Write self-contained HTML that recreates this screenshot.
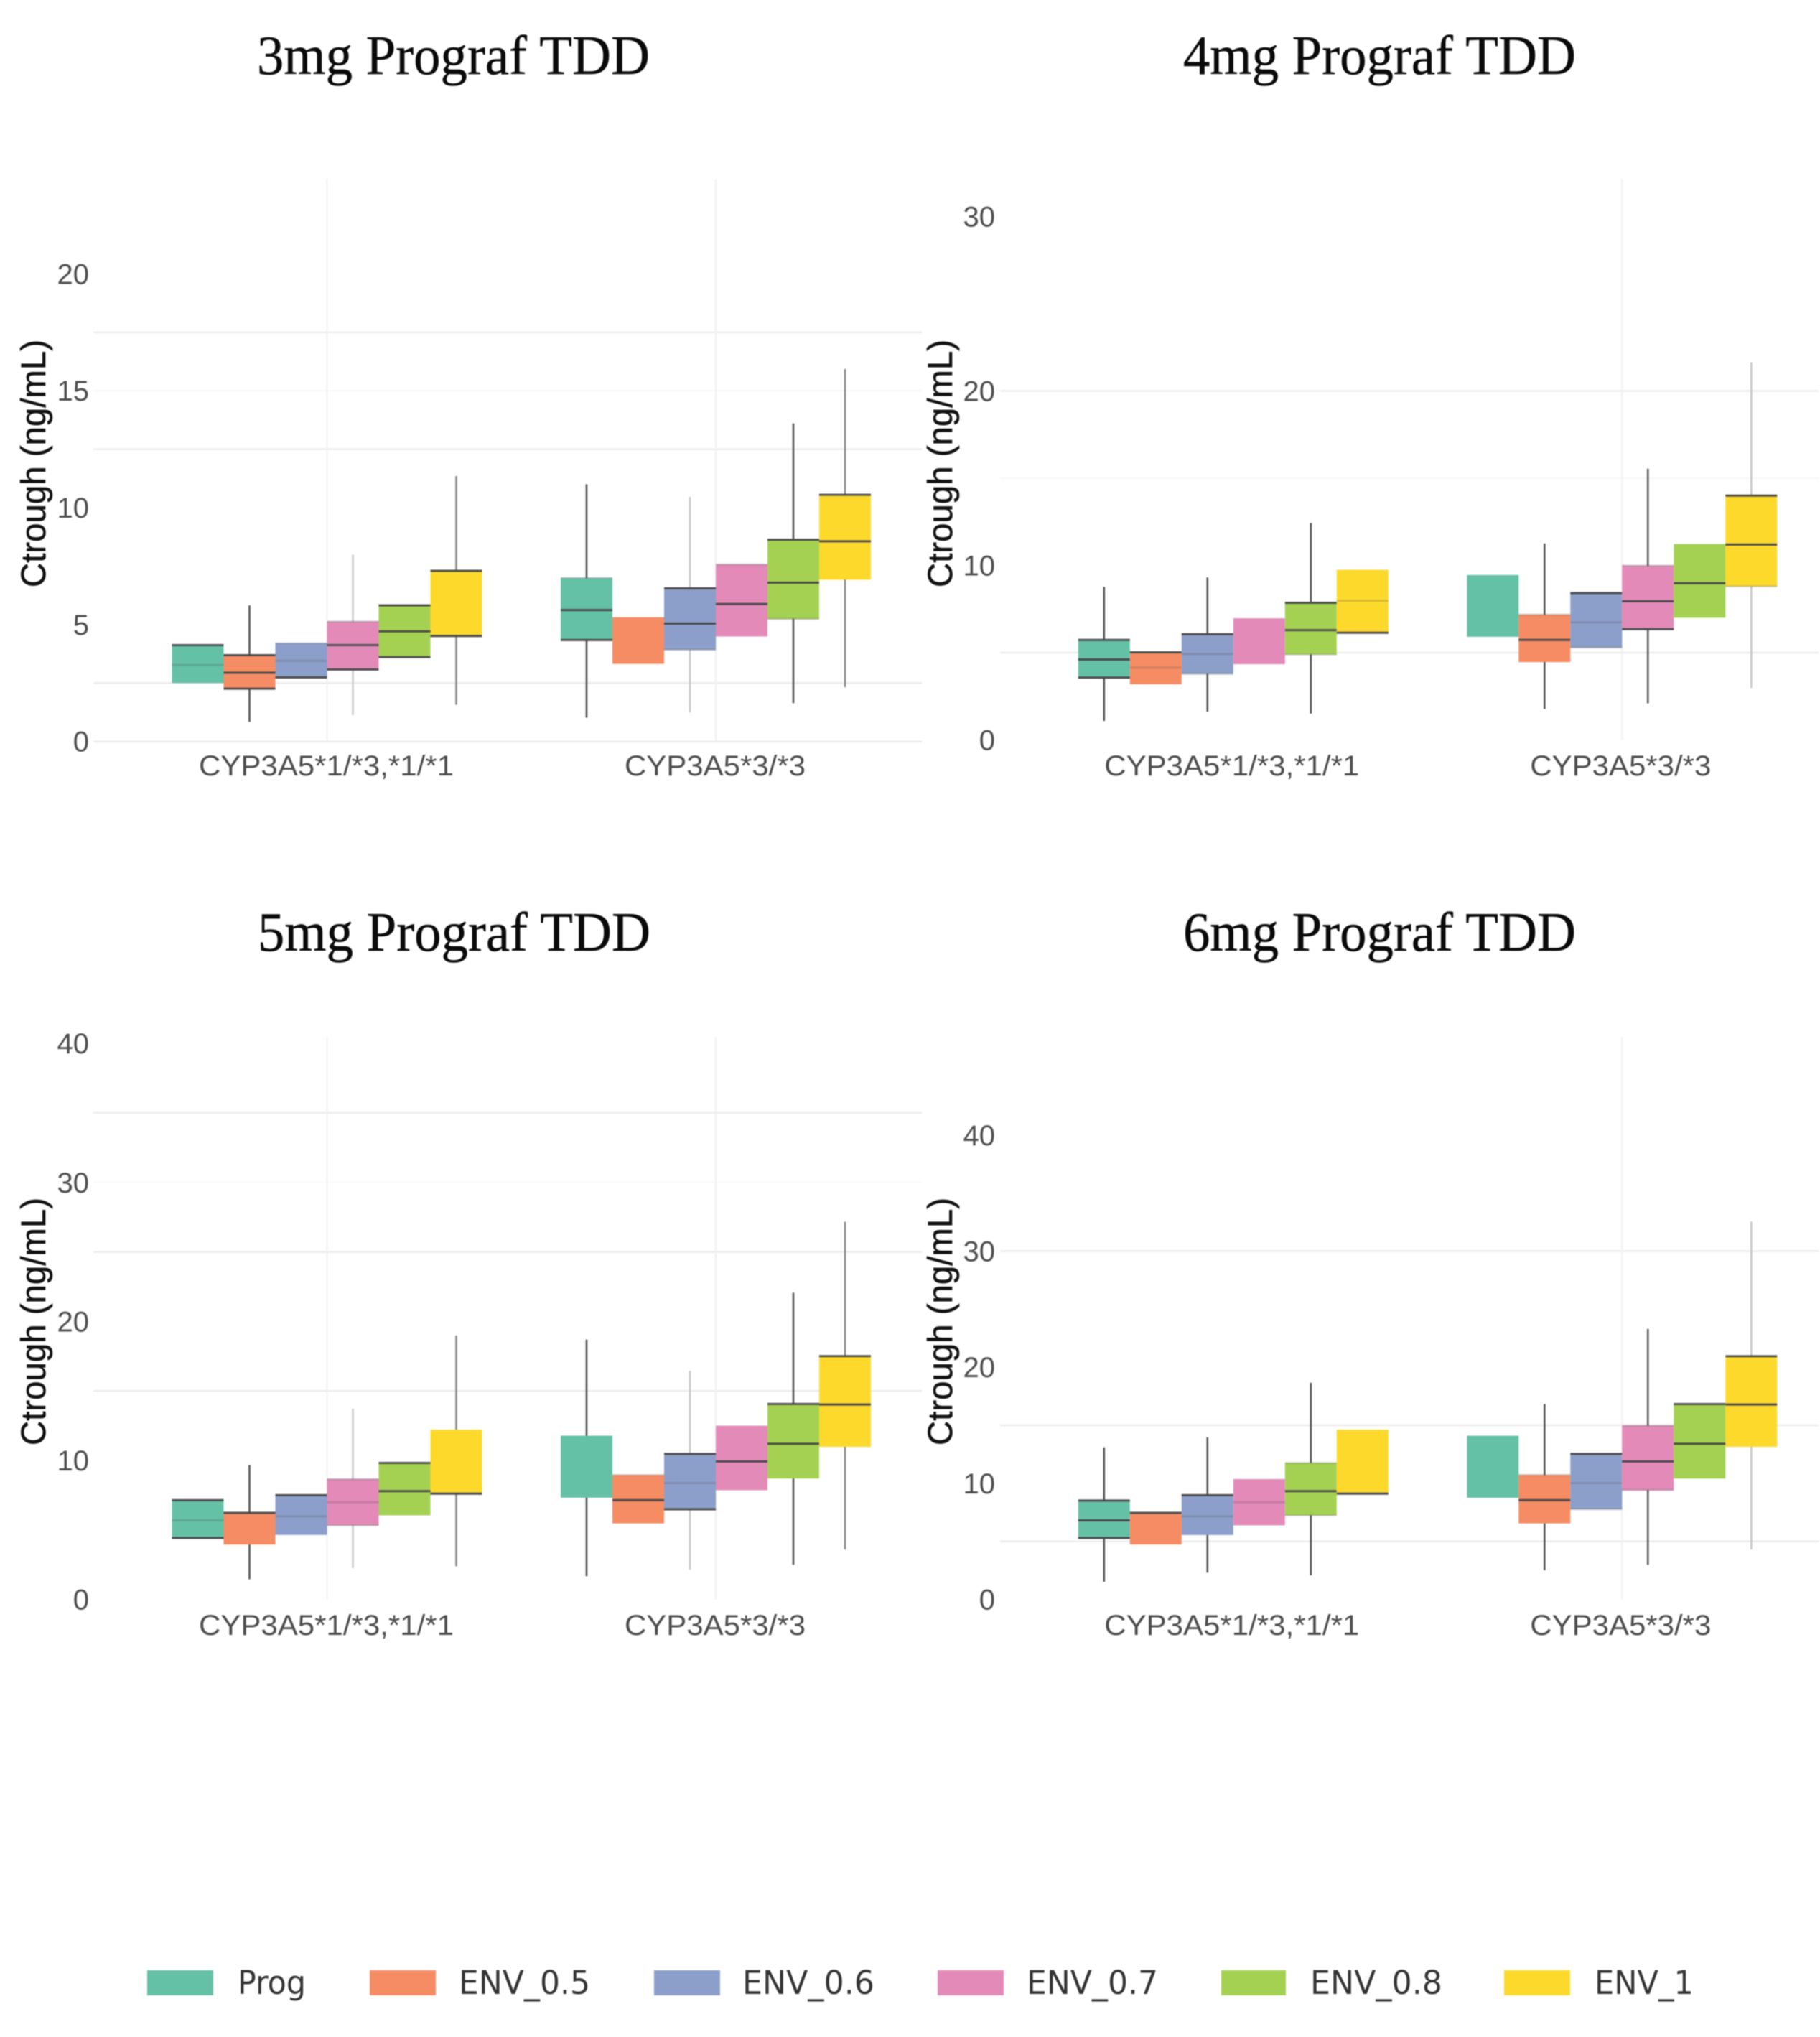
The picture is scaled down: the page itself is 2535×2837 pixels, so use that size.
<!DOCTYPE html>
<html lang="en">
<head>
<meta charset="utf-8">
<title>Ctrough by CYP3A5 genotype and Prograf TDD</title>
<style>
html,body{margin:0;padding:0;background:#fff;}
#figure{display:block;width:2535px;height:2837px;filter:blur(0.7px);}
.title{font-family:"Liberation Serif",serif;font-size:77px;fill:#0a0a0a;stroke:#0a0a0a;stroke-width:0.5px;}
.ytitle{font-family:"Liberation Sans",sans-serif;font-size:48px;fill:#111;stroke:#111;stroke-width:0.6px;}
.tick{font-family:"Liberation Sans",sans-serif;font-size:40px;fill:#4d4d4d;}
.xlab{font-family:"Liberation Sans",sans-serif;font-size:40px;fill:#4d4d4d;}
.legtext{font-family:"DejaVu Sans",sans-serif;font-size:45px;fill:#333;}
</style>
</head>
<body>
<svg id="figure" xmlns="http://www.w3.org/2000/svg" width="2535" height="2837" viewBox="0 0 2535 2837">
  <rect x="0" y="0" width="2535" height="2837" fill="#ffffff"/>
  <g id="panels"></g>

  <text class="title" x="358" y="103" textLength="547" lengthAdjust="spacingAndGlyphs">3mg Prograf TDD</text>
  <text class="title" x="1648" y="103" textLength="547" lengthAdjust="spacingAndGlyphs">4mg Prograf TDD</text>
  <text class="title" x="359" y="1324" textLength="547" lengthAdjust="spacingAndGlyphs">5mg Prograf TDD</text>
  <text class="title" x="1648" y="1324" textLength="547" lengthAdjust="spacingAndGlyphs">6mg Prograf TDD</text>

  <text class="ytitle" transform="translate(63,818) rotate(-90)" textLength="345" lengthAdjust="spacingAndGlyphs">Ctrough (ng/mL)</text>
  <text class="ytitle" transform="translate(1326,818) rotate(-90)" textLength="345" lengthAdjust="spacingAndGlyphs">Ctrough (ng/mL)</text>
  <text class="ytitle" transform="translate(63,2013) rotate(-90)" textLength="345" lengthAdjust="spacingAndGlyphs">Ctrough (ng/mL)</text>
  <text class="ytitle" transform="translate(1326,2013) rotate(-90)" textLength="345" lengthAdjust="spacingAndGlyphs">Ctrough (ng/mL)</text>

  <g>
    <g>
      <rect x="205" y="2744" width="92" height="35" fill="#64c1a5"/>
      <text class="legtext" x="331" y="2777" textLength="95" lengthAdjust="spacingAndGlyphs">Prog</text>
    </g>
    <g>
      <rect x="515" y="2744" width="92" height="35" fill="#f68c63"/>
      <text class="legtext" x="639" y="2777" textLength="183" lengthAdjust="spacingAndGlyphs">ENV_0.5</text>
    </g>
    <g>
      <rect x="911" y="2744" width="92" height="35" fill="#8c9fca"/>
      <text class="legtext" x="1034" y="2777" textLength="184" lengthAdjust="spacingAndGlyphs">ENV_0.6</text>
    </g>
    <g>
      <rect x="1306" y="2744" width="92" height="35" fill="#e38ab9"/>
      <text class="legtext" x="1430" y="2777" textLength="183" lengthAdjust="spacingAndGlyphs">ENV_0.7</text>
    </g>
    <g>
      <rect x="1701" y="2744" width="90" height="35" fill="#a5d153"/>
      <text class="legtext" x="1825" y="2777" textLength="184" lengthAdjust="spacingAndGlyphs">ENV_0.8</text>
    </g>
    <g>
      <rect x="2095" y="2744" width="92" height="35" fill="#fdd92c"/>
      <text class="legtext" x="2221" y="2777" textLength="138" lengthAdjust="spacingAndGlyphs">ENV_1</text>
    </g>
  </g>
</svg>

<script>
// Shared categories / series
var categories = ["CYP3A5*1/*3,*1/*1", "CYP3A5*3/*3"];
var seriesNames = ["Prog", "ENV_0.5", "ENV_0.6", "ENV_0.7", "ENV_0.8", "ENV_1"];
var seriesColors = ["#64c1a5", "#f68c63", "#8c9fca", "#e38ab9", "#a5d153", "#fdd92c"];

// 3mg panel (6 boxes for category 1, then 6 for category 2)
var ticks3mg = [0, 5, 10, 15, 20];
var gridStrong3mg = [0, 2.5, 12.5, 17.5];
var gridFaint3mg = [15];
var q1_3mg = [2.50, 2.26, 2.74, 3.08, 3.61, 4.51, 4.34, 3.32, 3.92, 4.49, 5.24, 6.92];
var median_3mg = [3.27, 2.94, 3.45, 4.12, 4.71, null, 5.62, null, 5.04, 5.88, 6.79, 8.56];
var q3_3mg = [4.12, 3.69, 4.20, 5.13, 5.82, 7.30, 6.99, 5.31, 6.55, 7.57, 8.63, 10.55];
var whiskerLow_3mg = [null, 0.84, null, 1.13, null, 1.57, 1.02, null, 1.24, null, 1.64, 2.32];
var whiskerHigh_3mg = [null, 5.82, null, 7.99, null, 11.35, 11.0, null, 10.46, null, 13.6, 15.93];

// 4mg panel
var ticks4mg = [0, 10, 20, 30];
var gridStrong4mg = [5, 20];
var gridFaint4mg = [15];
var q1_4mg = [3.57, 3.19, 3.78, 4.34, 4.90, 6.14, 5.91, 4.46, 5.29, 6.35, 7.00, 8.80];
var median_4mg = [4.61, 4.14, 4.93, null, 6.29, 7.98, null, 5.73, 6.74, 7.95, 8.98, 11.20];
var q3_4mg = [5.73, 5.02, 6.06, 6.97, 7.86, 9.75, 9.45, 7.18, 8.42, 9.99, 11.23, 14.0];
var whiskerLow_4mg = [1.09, null, 1.62, null, 1.51, null, null, 1.77, null, 2.10, null, 2.98];
var whiskerHigh_4mg = [8.77, null, 9.31, null, 12.44, null, null, 11.26, null, 15.54, null, 21.65];

// 5mg panel
var ticks5mg = [0, 10, 20, 30, 40];
var gridStrong5mg = [15, 25, 35];
var gridFaint5mg = [30];
var q1_5mg = [4.42, 3.95, 4.64, 5.33, 6.05, 7.61, 7.32, 5.47, 6.49, 7.86, 8.70, 10.98];
var median_5mg = [5.69, null, 5.98, 6.99, 7.79, null, null, 7.14, 8.37, 9.93, 11.20, 14.02];
var q3_5mg = [7.14, 6.23, 7.50, 8.66, 9.82, 12.21, 11.78, 8.95, 10.47, 12.50, 14.06, 17.50];
var whiskerLow_5mg = [null, 1.45, null, 2.25, null, 2.39, 1.67, null, 2.14, null, 2.50, 3.59];
var whiskerHigh_5mg = [null, 9.67, null, 13.73, null, 18.99, 18.70, null, 16.45, null, 22.07, 27.17];

// 6mg panel
var ticks6mg = [0, 10, 20, 30, 40];
var gridStrong6mg = [5, 15, 30];
var gridFaint6mg = [];
var q1_6mg = [5.29, 4.73, 5.55, 6.38, 7.25, 9.11, 8.76, 6.55, 7.77, 9.41, 10.41, 13.15];
var median_6mg = [6.81, null, 7.16, 8.37, 9.33, null, null, 8.55, 10.02, 11.89, 13.41, 16.79];
var q3_6mg = [8.52, 7.46, 8.98, 10.37, 11.76, 14.62, 14.10, 10.72, 12.54, 14.97, 16.83, 20.95];
var whiskerLow_6mg = [1.52, null, 2.30, null, 2.08, null, null, 2.52, null, 2.99, null, 4.30];
var whiskerHigh_6mg = [13.10, null, 13.97, null, 18.66, null, null, 16.83, null, 23.30, null, 32.54];

// Which box rules show in the reference: T/M/B dark, t/m/b faint; whisker tone d/m/f
var rules3mg = ["Tm","TMB","tmB","tMB","TMB","TB","MBt","","TMb","Mt","TMb","MT"];
var rules4mg = ["TMB","Tm","Tmb","","TMb","Bm","","tM","Tmb","tMB","M","TMb"];
var rules5mg = ["TmB","T","Tm","tmb","TM","B","","tM","TmB","M","MT","MT"];
var rules6mg = ["TMB","T","Tm","m","tMb","B","","tM","Tmb","tMb","TM","MT"];
var tones3mg = ["","d","","f","","m","d","","f","","d","m"];
var tones4mg = ["d","","d","","d","","","d","","d","","f"];

var panelList = [
  {id:"3mg", ticks:ticks3mg, gridStrong:gridStrong3mg, gridFaint:gridFaint3mg, q1:q1_3mg, med:median_3mg, q3:q3_3mg, lo:whiskerLow_3mg, hi:whiskerHigh_3mg, rules:rules3mg, tones:tones3mg,
   left:130, right:1284, top:249, y0:1032.7, pxPerUnit:32.57, cat0:455.5, tickX:124, labelY:1080, labelDx:-1, vgrid:[0,1]},
  {id:"4mg", ticks:ticks4mg, gridStrong:gridStrong4mg, gridFaint:gridFaint4mg, q1:q1_4mg, med:median_4mg, q3:q3_4mg, lo:whiskerLow_4mg, hi:whiskerHigh_4mg, rules:rules4mg, tones:tones4mg,
   left:1393, right:2533, top:249, y0:1030.5, pxPerUnit:24.3, cat0:1717.8, tickX:1386, labelY:1080, labelDx:-2, vgrid:[1]},
  {id:"5mg", ticks:ticks5mg, gridStrong:gridStrong5mg, gridFaint:gridFaint5mg, q1:q1_5mg, med:median_5mg, q3:q3_5mg, lo:whiskerLow_5mg, hi:whiskerHigh_5mg, rules:rules5mg, tones:tones3mg,
   left:130, right:1284, top:1444, y0:2227.6, pxPerUnit:19.36, cat0:455.5, tickX:124, labelY:2277, labelDx:-1, vgrid:[0,1]},
  {id:"6mg", ticks:ticks6mg, gridStrong:gridStrong6mg, gridFaint:gridFaint6mg, q1:q1_6mg, med:median_6mg, q3:q3_6mg, lo:whiskerLow_6mg, hi:whiskerHigh_6mg, rules:rules6mg, tones:tones4mg,
   left:1393, right:2533, top:1444, y0:2227.6, pxPerUnit:16.17, cat0:1717.8, tickX:1386, labelY:2277, labelDx:-2, vgrid:[1]}
];

var SVG_NS = "http://www.w3.org/2000/svg";
var CAT_STEP = 541.5;
var BOX_W = 72;
var LABEL_WIDTHS = [355, 252];

function make(tag, attrs, parent) {
  var el = document.createElementNS(SVG_NS, tag);
  for (var k in attrs) { el.setAttribute(k, attrs[k]); }
  parent.appendChild(el);
  return el;
}
function yScale(p, v) { return p.y0 - v * p.pxPerUnit; }
function xScale(p, c, s) { return p.cat0 + c * CAT_STEP + (s - 2.5) * BOX_W; }

function ruleStyle(rules, key) {
  if (rules.indexOf(key.toUpperCase()) >= 0) { return {stroke:"#474747", op:0.95}; }
  if (rules.indexOf(key.toLowerCase()) >= 0) { return {stroke:"#474747", op:0.2}; }
  return null;
}

function drawPanel(p) {
  var root = document.getElementById("panels");
  var g = make("g", {}, root);
  
  

  p.gridFaint.forEach(function (v) {
    var ln = make("line", {x1:p.left, x2:p.right, y1:yScale(p, v), y2:yScale(p, v), stroke:"#f7f7f7", "stroke-width":2}, g);
    
    
  });
  p.gridStrong.forEach(function (v) {
    var ln = make("line", {x1:p.left, x2:p.right, y1:yScale(p, v), y2:yScale(p, v), stroke:"#ececec", "stroke-width":2.5}, g);
    
    
  });
  p.vgrid.forEach(function (c) {
    var x = xScale(p, c, 2.5);
    var ln = make("line", {x1:x, x2:x, y1:p.top, y2:p.y0, stroke:"#f0f0f0", "stroke-width":2}, g);
    
    
  });

  p.ticks.forEach(function (v) {
    var t = make("text", {"class":"tick", x:p.tickX, y:yScale(p, v) + 14, "text-anchor":"end"}, g);
    
    
    t.textContent = String(v);
  });

  categories.forEach(function (name, c) {
    var t = make("text", {"class":"xlab", x:xScale(p, c, 2.5) + p.labelDx, y:p.labelY, "text-anchor":"middle",
      textLength:LABEL_WIDTHS[c], lengthAdjust:"spacingAndGlyphs"}, g);
    
    
    t.textContent = name;
  });

  for (var i = 0; i < p.q1.length; i++) {
    var c = Math.floor(i / seriesNames.length);
    var s = i % seriesNames.length;
    var cx = xScale(p, c, s);
    var x0 = cx - BOX_W / 2;
    var x1 = cx + BOX_W / 2;

    var whiskerGroup = make("g", {}, g);
    
    
    if (p.lo[i] !== null && p.hi[i] !== null) {
      var tone = p.tones[i];
      var colour = tone === "d" ? "#555555" : tone === "m" ? "#8a8a8a" : "#c8c8c8";
      make("line", {x1:cx, x2:cx, y1:yScale(p, p.lo[i]), y2:yScale(p, p.hi[i]), stroke:colour, "stroke-width":2.6}, whiskerGroup);
    }

    var box = make("rect", {x:x0, y:yScale(p, p.q3[i]), width:BOX_W, height:yScale(p, p.q1[i]) - yScale(p, p.q3[i]), fill:seriesColors[s]}, g);
    
    

    var rules = p.rules[i];
    var spec = [["T", p.q3[i]], ["M", p.med[i]], ["B", p.q1[i]]];
    spec.forEach(function (r) {
      var st = ruleStyle(rules, r[0]);
      if (!st || r[1] === null) { return; }
      var ln = make("line", {x1:x0, x2:x1, y1:yScale(p, r[1]), y2:yScale(p, r[1]), stroke:st.stroke, "stroke-opacity":st.op, "stroke-width":3}, g);
      
      
    });
  }
}
panelList.forEach(drawPanel);
</script>
</body>
</html>
